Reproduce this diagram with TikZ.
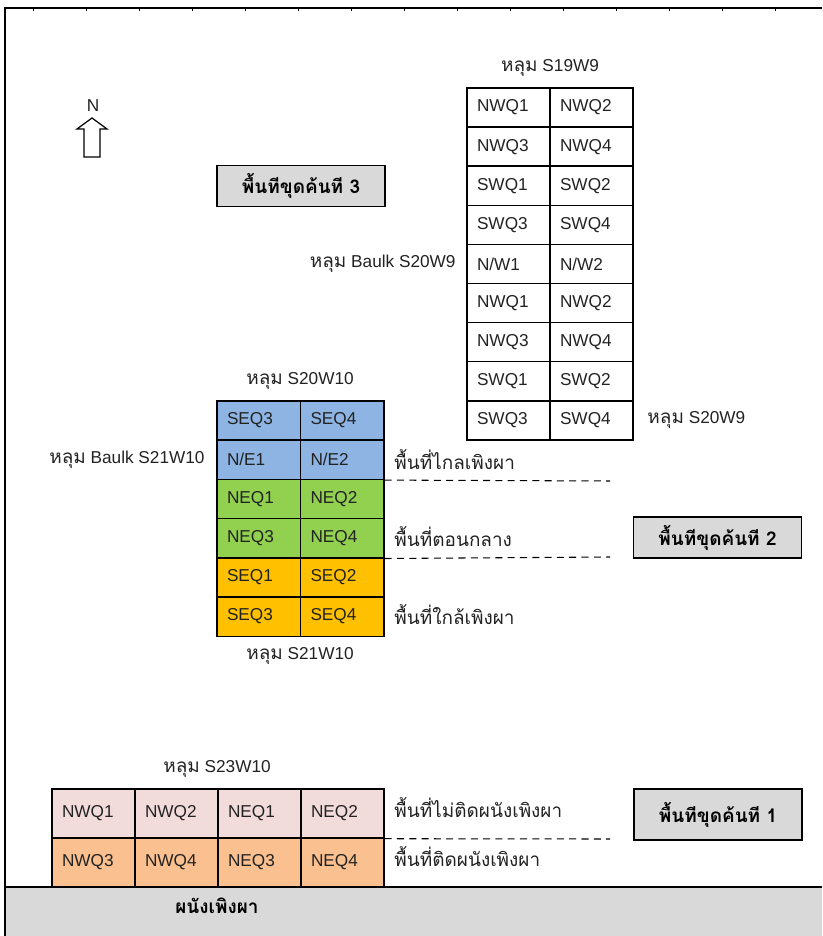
\documentclass[tikz,border=0pt]{standalone}
\usepackage{fontspec}
\setmainfont{Liberation Sans}
\newfontfamily\thaifont[Script=Thai,Scale=1.1]{Loma}
\newcommand{\thai}[1]{{\thaifont #1}}
\usetikzlibrary{positioning}
\definecolor{Blue30}{HTML}{8DB4E2}
\definecolor{Green40}{HTML}{92D050}
\definecolor{Orange50}{HTML}{FFC000}
\definecolor{Pink10}{HTML}{F2DCDB}
\definecolor{Peach30}{HTML}{FAC090}
\definecolor{Grey15}{HTML}{D9D9D9}
\definecolor{Ink}{HTML}{222222}
\tikzset{
    cella/.style = {draw=black, line width=0.8pt, minimum height=0.782cm, text width=1.26cm, inner xsep=0.2cm, inner ysep=0pt, align=left, font=\fontsize{9.8}{11}\selectfont, text=Ink},
    cella media/.style = {cella, minimum height=0.784cm, text width=1.27cm},
    cella bassa/.style = {cella, minimum height=0.98cm},
    etichetta/.style = {inner sep=1pt, font=\fontsize{9.8}{11}\selectfont, text=Ink},
    riquadro/.style = {draw=black, line width=0.9pt, fill=Grey15, minimum width=3.36cm, minimum height=0.82cm, inner sep=0pt, font=\fontsize{9.8}{12}\selectfont\bfseries},
    tratteggio/.style = {dashed, dash pattern=on 4pt off 3pt, line width=0.6pt}
}

\begin{document}
\begin{tikzpicture}[
        x=0.02cm, y=-0.02cm,
        line width=0.8pt
    ]
    \useasboundingbox (0,0) rectangle (822,936);

    % cornice e parete
    \fill[Grey15] (5,887) rectangle (822,936);
    \draw (5,887) -- (822,887);
    \draw (822,8) -- (5,8) -- (5,936);
    \foreach \t in {33,86,139,192,245,298,351,404,457,510,563,616,669,722,775} {
        \draw[line width=0.5pt] (\t,8) -- (\t,11);
    }
    \node (parete) at (217,906) [font=\fontsize{9.8}{12}\selectfont\bfseries] {\thai{ผนังเพิงผา}};

    % nord
    \draw[line width=0.7pt] (84,157) -- (84,129) -- (77,129) -- (92,118) -- (107,129) -- (100,129) -- (100,157) -- cycle;
    \node (nord) at (93,106) [etichetta] {N};

    % hole S19W9
    \node (t1l) at (508.5,107.55) [cella] {NWQ1};
    \node (t1r) at (591.5,107.55) [cella] {NWQ2};
    \node (t2l) at (508.5,146.65) [cella] {NWQ3};
    \node (t2r) at (591.5,146.65) [cella] {NWQ4};
    \node (t3l) at (508.5,185.75) [cella] {SWQ1};
    \node (t3r) at (591.5,185.75) [cella] {SWQ2};
    \node (t4l) at (508.5,224.85) [cella] {SWQ3};
    \node (t4r) at (591.5,224.85) [cella] {SWQ4};
    \node (t5l) at (508.5,263.95) [cella] {N/W1};
    \node (t5r) at (591.5,263.95) [cella] {N/W2};
    \node (t6l) at (508.5,303.05) [cella] {NWQ1};
    \node (t6r) at (591.5,303.05) [cella] {NWQ2};
    \node (t7l) at (508.5,342.15) [cella] {NWQ3};
    \node (t7r) at (591.5,342.15) [cella] {NWQ4};
    \node (t8l) at (508.5,381.25) [cella] {SWQ1};
    \node (t8r) at (591.5,381.25) [cella] {SWQ2};
    \node (t9l) at (508.5,420.35) [cella] {SWQ3};
    \node (t9r) at (591.5,420.35) [cella] {SWQ4};

    \node (s19w9)  at (550,68)  [etichetta] {\thai{หลุม} S19W9};
    \node (bs20w9) at (458,264) [etichetta, anchor=east] {\thai{หลุม} Baulk S20W9};
    \node (s20w9)  at (645,420) [etichetta, anchor=west] {\thai{หลุม} S20W9};

    % hole S20W10 / S21W10
    \node (m1l) at (258.75,420.6) [cella media, fill=Blue30] {SEQ3};
    \node (m1r) at (342.25,420.6) [cella media, fill=Blue30] {SEQ4};
    \node (m2l) at (258.75,459.8) [cella media, fill=Blue30] {N/E1};
    \node (m2r) at (342.25,459.8) [cella media, fill=Blue30] {N/E2};
    \node (m3l) at (258.75,499.0) [cella media, fill=Green40] {NEQ1};
    \node (m3r) at (342.25,499.0) [cella media, fill=Green40] {NEQ2};
    \node (m4l) at (258.75,538.2) [cella media, fill=Green40] {NEQ3};
    \node (m4r) at (342.25,538.2) [cella media, fill=Green40] {NEQ4};
    \node (m5l) at (258.75,577.4) [cella media, fill=Orange50] {SEQ1};
    \node (m5r) at (342.25,577.4) [cella media, fill=Orange50] {SEQ2};
    \node (m6l) at (258.75,616.6) [cella media, fill=Orange50] {SEQ3};
    \node (m6r) at (342.25,616.6) [cella media, fill=Orange50] {SEQ4};

    \node (s20w10)  at (300,381) [etichetta] {\thai{หลุม} S20W10};
    \node (bs21w10) at (207,460) [etichetta, anchor=east] {\thai{หลุม} Baulk S21W10};
    \node (s21w10)  at (300,656) [etichetta] {\thai{หลุม} S21W10};

    \node (lontano) at (392,460) [etichetta, anchor=west] {\thai{พื้นที่ไกลเพิงผา}};
    \node (centro)  at (392,537) [etichetta, anchor=west] {\thai{พื้นที่ตอนกลาง}};
    \node (vicino)  at (392,615) [etichetta, anchor=west] {\thai{พื้นที่ใกล้เพิงผา}};

    \coordinate (fine1) at (610,481);
    \coordinate (fine2) at (610,557);
    \draw[tratteggio] (m2r.south east) -- (fine1);
    \draw[tratteggio] (m4r.south east) -- (fine2);

    % hole S23W10
    \node (b1a) at (93.5,813.5)  [cella bassa, fill=Pink10] {NWQ1};
    \node (b1b) at (176.5,813.5) [cella bassa, fill=Pink10] {NWQ2};
    \node (b1c) at (259.5,813.5) [cella bassa, fill=Pink10] {NEQ1};
    \node (b1d) at (342.5,813.5) [cella bassa, fill=Pink10] {NEQ2};
    \node (b2a) at (93.5,862.5)  [cella bassa, fill=Peach30] {NWQ3};
    \node (b2b) at (176.5,862.5) [cella bassa, fill=Peach30] {NWQ4};
    \node (b2c) at (259.5,862.5) [cella bassa, fill=Peach30] {NEQ3};
    \node (b2d) at (342.5,862.5) [cella bassa, fill=Peach30] {NEQ4};

    \node (s23w10) at (217,769) [etichetta] {\thai{หลุม} S23W10};
    \node (staccato) at (392,808) [etichetta, anchor=west] {\thai{พื้นที่ไม่ติดผนังเพิงผา}};
    \node (attaccato) at (392,857) [etichetta, anchor=west] {\thai{พื้นที่ติดผนังเพิงผา}};

    \coordinate (fine3) at (610,839);
    \draw[tratteggio] (b1d.south east) -- (fine3);

    % aree di scavo
    \node (area3) at (301,186)    [riquadro] {\thai{พื้นทีขุดค้นที 3}};
    \node (area2) at (717.5,537.5) [riquadro] {\thai{พื้นทีขุดค้นที 2}};
    \node (area1) at (718,814.5)  [riquadro, minimum height=1.02cm] {\thai{พื้นทีขุดค้นที 1}};

\end{tikzpicture}
\end{document}
